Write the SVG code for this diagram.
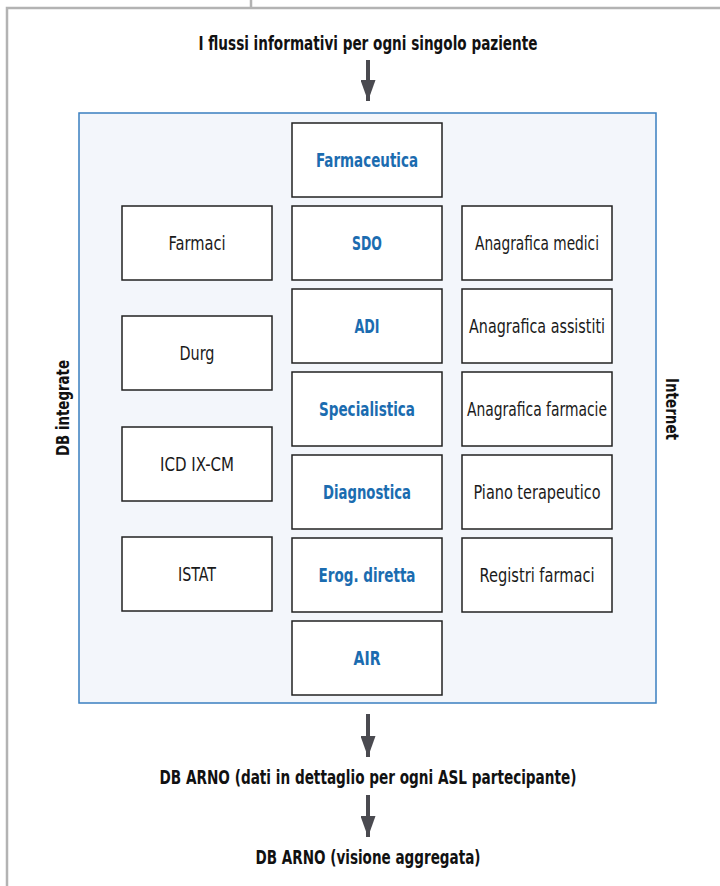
<svg xmlns="http://www.w3.org/2000/svg" width="720" height="886" viewBox="0 0 720 886">
<defs>
<style>
.frame{fill:none;stroke:#b3b3b3;stroke-width:2.5}
.panel{fill:#f3f6fb;stroke:#3a7fc0;stroke-width:1.5}
.box{fill:#ffffff;stroke:#222222;stroke-width:1.5}
.t{font-family:"DejaVu Sans Condensed","Liberation Sans",sans-serif;font-size:19px;text-anchor:middle;dominant-baseline:central}
.plain{fill:#1a1a1a}
.blue{fill:#1b6cb0;font-weight:bold}
.head{fill:#111111;font-weight:bold;font-size:19px}
.side{fill:#111111;font-weight:bold;font-size:17px}
.arr{stroke:#4a4a50;stroke-width:4;fill:none}
.ah{fill:#4a4a50}
</style>
<marker id="ah" viewBox="0 0 21 15" refX="21" refY="7.5" markerWidth="21" markerHeight="15" markerUnits="userSpaceOnUse" orient="auto">
<path d="M0,0 L21,7.5 L0,15 Z" class="ah"/>
</marker>
</defs>
<rect width="720" height="886" fill="#ffffff"/>
<path class="frame" d="M251,0 V8 M720,8 H7 V886"/>
<text class="t head" x="368" y="43" textLength="339" lengthAdjust="spacingAndGlyphs">I flussi informativi per ogni singolo paziente</text>
<rect id="panel" class="panel" x="79" y="113" width="577" height="590"/>
<text class="t side" transform="translate(63,408) rotate(-90)" textLength="96" lengthAdjust="spacingAndGlyphs">DB integrate</text>
<text class="t side" transform="translate(672,409) rotate(90)" textLength="62" lengthAdjust="spacingAndGlyphs">Internet</text>
<g id="farmaceutica"><rect class="box" x="292" y="123" width="150" height="74"/><text class="t blue" x="367" y="160" textLength="102" lengthAdjust="spacingAndGlyphs">Farmaceutica</text></g>
<g id="sdo"><rect class="box" x="292" y="206" width="150" height="74"/><text class="t blue" x="367" y="243" textLength="30" lengthAdjust="spacingAndGlyphs">SDO</text></g>
<g id="adi"><rect class="box" x="292" y="289" width="150" height="74"/><text class="t blue" x="367" y="326" textLength="25" lengthAdjust="spacingAndGlyphs">ADI</text></g>
<g id="specialistica"><rect class="box" x="292" y="372" width="150" height="74"/><text class="t blue" x="367" y="409" textLength="96" lengthAdjust="spacingAndGlyphs">Specialistica</text></g>
<g id="diagnostica"><rect class="box" x="292" y="455" width="150" height="74"/><text class="t blue" x="367" y="492" textLength="88" lengthAdjust="spacingAndGlyphs">Diagnostica</text></g>
<g id="erog"><rect class="box" x="292" y="538" width="150" height="74"/><text class="t blue" x="367" y="575" textLength="97" lengthAdjust="spacingAndGlyphs">Erog. diretta</text></g>
<g id="air"><rect class="box" x="292" y="621" width="150" height="74"/><text class="t blue" x="367" y="658" textLength="27" lengthAdjust="spacingAndGlyphs">AIR</text></g>
<g id="farmaci"><rect class="box" x="122" y="206" width="150" height="74"/><text class="t plain" x="197" y="243" textLength="57" lengthAdjust="spacingAndGlyphs">Farmaci</text></g>
<g id="durg"><rect class="box" x="122" y="316" width="150" height="74"/><text class="t plain" x="197" y="353" textLength="35" lengthAdjust="spacingAndGlyphs">Durg</text></g>
<g id="icd"><rect class="box" x="122" y="427" width="150" height="74"/><text class="t plain" x="197" y="464" textLength="74" lengthAdjust="spacingAndGlyphs">ICD IX-CM</text></g>
<g id="istat"><rect class="box" x="122" y="537" width="150" height="74"/><text class="t plain" x="197" y="574" textLength="38" lengthAdjust="spacingAndGlyphs">ISTAT</text></g>
<g id="medici"><rect class="box" x="462" y="206" width="150" height="74"/><text class="t plain" x="537" y="243" textLength="124" lengthAdjust="spacingAndGlyphs">Anagrafica medici</text></g>
<g id="assistiti"><rect class="box" x="462" y="289" width="150" height="74"/><text class="t plain" x="537" y="326" textLength="136" lengthAdjust="spacingAndGlyphs">Anagrafica assistiti</text></g>
<g id="farmacie"><rect class="box" x="462" y="372" width="150" height="74"/><text class="t plain" x="537" y="409" textLength="140" lengthAdjust="spacingAndGlyphs">Anagrafica farmacie</text></g>
<g id="piano"><rect class="box" x="462" y="455" width="150" height="74"/><text class="t plain" x="537" y="492" textLength="127" lengthAdjust="spacingAndGlyphs">Piano terapeutico</text></g>
<g id="registri"><rect class="box" x="462" y="538" width="150" height="74"/><text class="t plain" x="537" y="575" textLength="115" lengthAdjust="spacingAndGlyphs">Registri farmaci</text></g>
<g id="connectors">
<line class="arr" x1="368" y1="60" x2="368" y2="101" marker-end="url(#ah)"/>
<line class="arr" x1="368" y1="714" x2="368" y2="757" marker-end="url(#ah)"/>
<line class="arr" x1="368" y1="795" x2="368" y2="837" marker-end="url(#ah)"/>
</g>
<text class="t head" x="368" y="777" textLength="417" lengthAdjust="spacingAndGlyphs">DB ARNO (dati in dettaglio per ogni ASL partecipante)</text>
<text class="t head" x="368" y="857" textLength="225" lengthAdjust="spacingAndGlyphs">DB ARNO (visione aggregata)</text>
</svg>
